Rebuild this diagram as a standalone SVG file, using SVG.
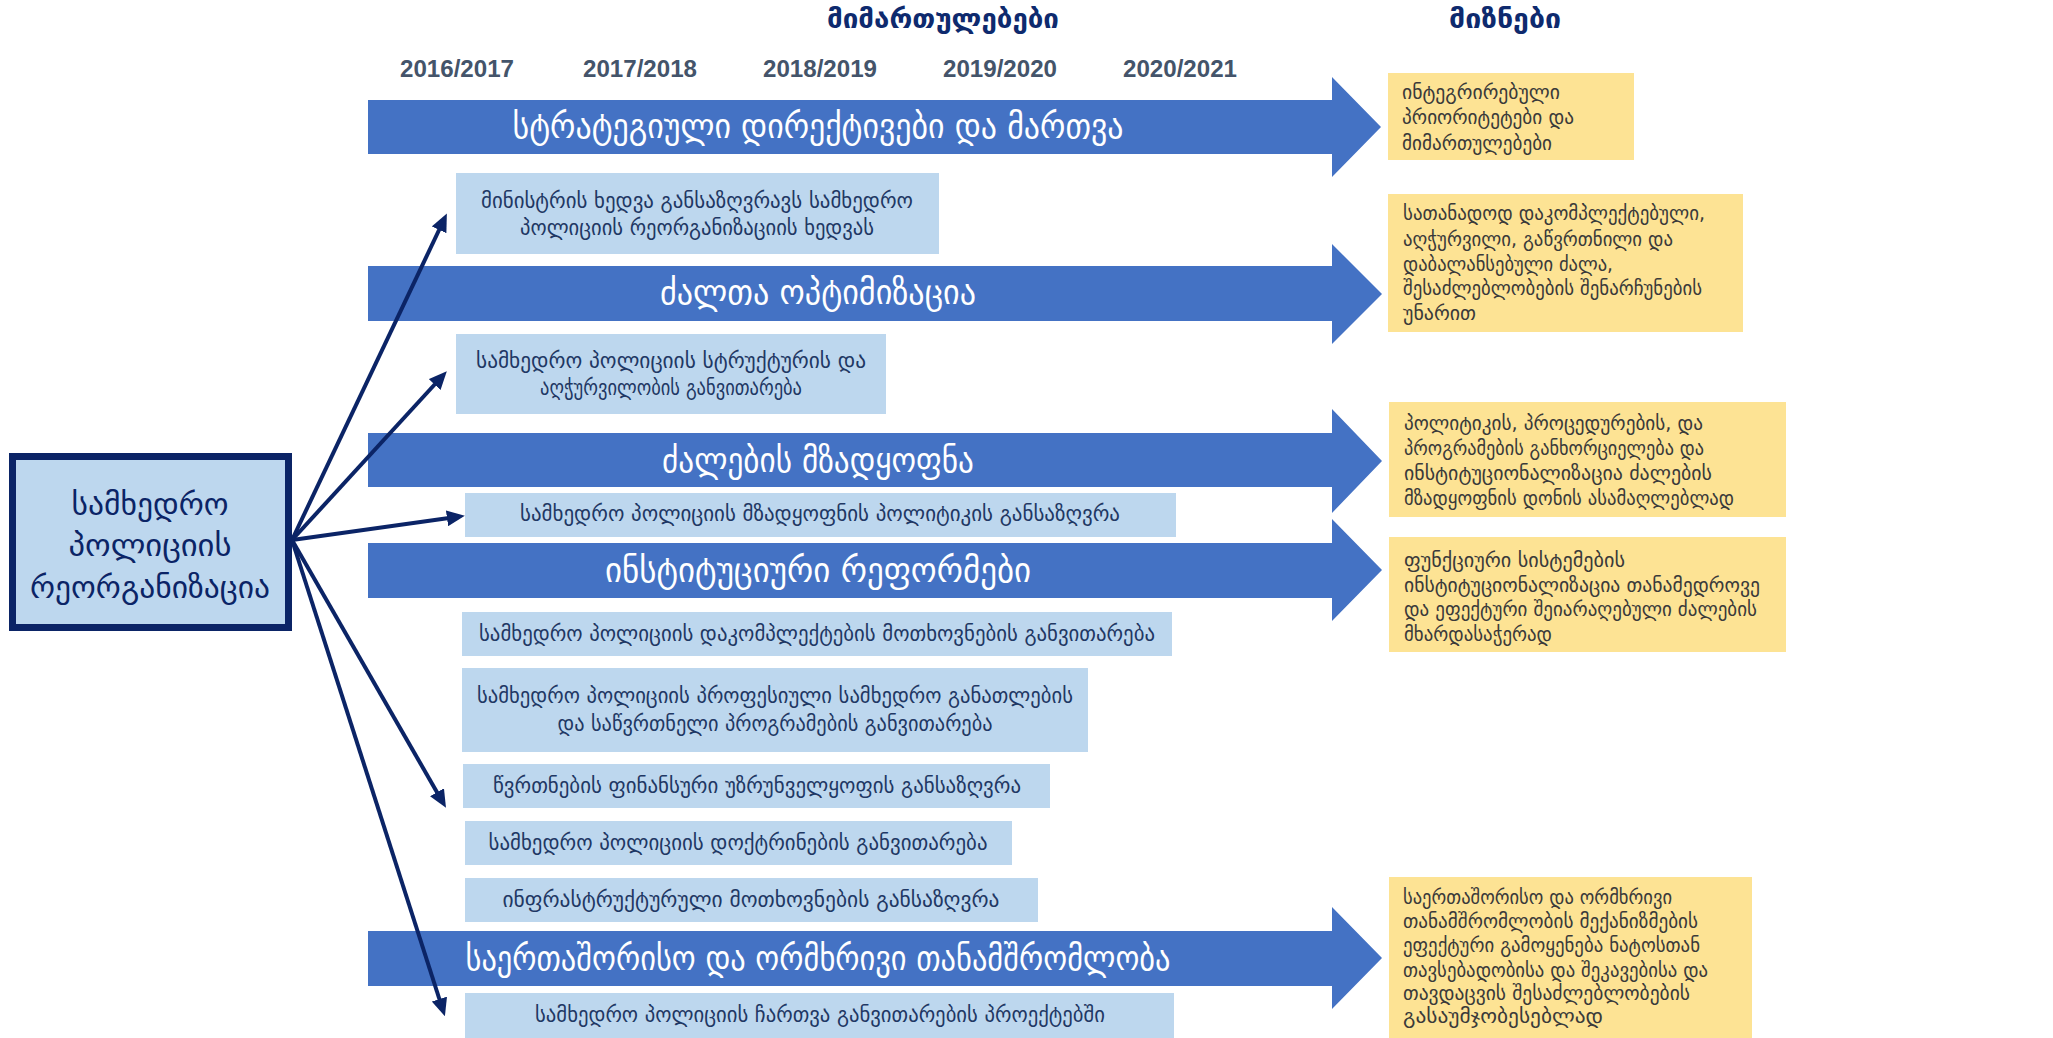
<svg xmlns="http://www.w3.org/2000/svg" width="2053" height="1038" viewBox="0 0 2053 1038">
<defs>
<style>
text{font-family:"DejaVu Sans","Noto Sans",sans-serif}
.hdr{font-size:27px;font-weight:bold;fill:#0E2A6E;text-anchor:middle}
.yr{font-family:"Liberation Sans",Arial,sans-serif;font-size:23px;font-weight:bold;fill:#44546A;text-anchor:middle}
.bar{fill:#4472C4}
.bt{font-size:34px;fill:#FFFFFF;text-anchor:middle}
.lb{fill:#BDD7EE}
.lt{font-size:22px;fill:#1F3864;text-anchor:middle}
.yb{fill:#FDE394}
.yt{font-size:19px;fill:#3A3A3A}
.root{fill:#BDD7EE;stroke:#0B2466;stroke-width:7}
.rt{font-size:31px;fill:#0B2466;text-anchor:middle}
.con{stroke:#0B2466;stroke-width:4;fill:none;marker-end:url(#ah)}
</style>
<marker id="ah" markerUnits="userSpaceOnUse" markerWidth="18" markerHeight="16" refX="2" refY="8" orient="auto">
<path d="M0,0 L18,8 L0,16 z" fill="#0B2466"/>
</marker>
</defs>
<rect width="2053" height="1038" fill="#FFFFFF"/>

<g id="headers">
<text class="hdr" x="943" y="28" textLength="232" lengthAdjust="spacingAndGlyphs">მიმართულებები</text>
<text class="hdr" x="1505" y="28" textLength="112" lengthAdjust="spacingAndGlyphs">მიზნები</text>
<text class="yr" x="457" y="77" textLength="114" lengthAdjust="spacingAndGlyphs">2016/2017</text>
<text class="yr" x="640" y="77" textLength="114" lengthAdjust="spacingAndGlyphs">2017/2018</text>
<text class="yr" x="820" y="77" textLength="114" lengthAdjust="spacingAndGlyphs">2018/2019</text>
<text class="yr" x="1000" y="77" textLength="114" lengthAdjust="spacingAndGlyphs">2019/2020</text>
<text class="yr" x="1180" y="77" textLength="114" lengthAdjust="spacingAndGlyphs">2020/2021</text>
</g>

<g id="bar1">
<polygon class="bar" points="368,100 1332,100 1332,77 1381,127 1332,177 1332,154 368,154"/>
<text class="bt" x="818" y="138" textLength="611" lengthAdjust="spacingAndGlyphs">სტრატეგიული დირექტივები და მართვა</text>
</g>
<g id="bar2">
<polygon class="bar" points="368,266 1332,266 1332,244 1382,294 1332,344 1332,321 368,321"/>
<text class="bt" x="818" y="304" textLength="316" lengthAdjust="spacingAndGlyphs">ძალთა ოპტიმიზაცია</text>
</g>
<g id="bar3">
<polygon class="bar" points="368,433 1332,433 1332,409 1382,461 1332,513 1332,487 368,487"/>
<text class="bt" x="818" y="472" textLength="312" lengthAdjust="spacingAndGlyphs">ძალების მზადყოფნა</text>
</g>
<g id="bar4">
<polygon class="bar" points="368,543 1332,543 1332,519 1382,570 1332,621 1332,598 368,598"/>
<text class="bt" x="818" y="582" textLength="426" lengthAdjust="spacingAndGlyphs">ინსტიტუციური რეფორმები</text>
</g>
<g id="bar5">
<polygon class="bar" points="368,931 1332,931 1332,907 1382,958 1332,1009 1332,986 368,986"/>
<text class="bt" x="818" y="970" textLength="705" lengthAdjust="spacingAndGlyphs">საერთაშორისო და ორმხრივი თანამშრომლობა</text>
</g>

<g id="box-a">
<rect class="lb" x="456" y="173" width="483" height="81"/>
<text class="lt" x="697" y="208" textLength="432" lengthAdjust="spacingAndGlyphs">მინისტრის ხედვა განსაზღვრავს სამხედრო</text>
<text class="lt" x="697" y="235" textLength="354" lengthAdjust="spacingAndGlyphs">პოლიციის რეორგანიზაციის ხედვას</text>
</g>
<g id="box-b">
<rect class="lb" x="456" y="334" width="430" height="80"/>
<text class="lt" x="671" y="368" textLength="390" lengthAdjust="spacingAndGlyphs">სამხედრო პოლიციის სტრუქტურის და</text>
<text class="lt" x="671" y="395" textLength="262" lengthAdjust="spacingAndGlyphs">აღჭურვილობის განვითარება</text>
</g>
<g id="box-c">
<rect class="lb" x="465" y="493" width="711" height="44"/>
<text class="lt" x="820" y="521" textLength="600" lengthAdjust="spacingAndGlyphs">სამხედრო პოლიციის მზადყოფნის პოლიტიკის განსაზღვრა</text>
</g>
<g id="box-d">
<rect class="lb" x="462" y="612" width="710" height="44"/>
<text class="lt" x="817" y="641" textLength="676" lengthAdjust="spacingAndGlyphs">სამხედრო პოლიციის დაკომპლექტების მოთხოვნების განვითარება</text>
</g>
<g id="box-e">
<rect class="lb" x="462" y="668" width="626" height="84"/>
<text class="lt" x="775" y="703" textLength="596" lengthAdjust="spacingAndGlyphs">სამხედრო პოლიციის პროფესიული სამხედრო განათლების</text>
<text class="lt" x="775" y="731" textLength="435" lengthAdjust="spacingAndGlyphs">და საწვრთნელი პროგრამების განვითარება</text>
</g>
<g id="box-f">
<rect class="lb" x="463" y="764" width="587" height="44"/>
<text class="lt" x="757" y="793" textLength="528" lengthAdjust="spacingAndGlyphs">წვრთნების ფინანსური უზრუნველყოფის განსაზღვრა</text>
</g>
<g id="box-g">
<rect class="lb" x="465" y="821" width="547" height="44"/>
<text class="lt" x="738" y="850" textLength="499" lengthAdjust="spacingAndGlyphs">სამხედრო პოლიციის დოქტრინების განვითარება</text>
</g>
<g id="box-h">
<rect class="lb" x="465" y="878" width="573" height="44"/>
<text class="lt" x="751" y="907" textLength="497" lengthAdjust="spacingAndGlyphs">ინფრასტრუქტურული მოთხოვნების განსაზღვრა</text>
</g>
<g id="box-i">
<rect class="lb" x="465" y="993" width="709" height="45"/>
<text class="lt" x="820" y="1022" textLength="570" lengthAdjust="spacingAndGlyphs">სამხედრო პოლიციის ჩართვა განვითარების პროექტებში</text>
</g>

<g id="goal1">
<rect class="yb" x="1388" y="73" width="246" height="87"/>
<text class="yt" x="1402" y="99" textLength="158" lengthAdjust="spacingAndGlyphs">ინტეგრირებული</text>
<text class="yt" x="1402" y="124" textLength="172" lengthAdjust="spacingAndGlyphs">პრიორიტეტები და</text>
<text class="yt" x="1402" y="150" textLength="150" lengthAdjust="spacingAndGlyphs">მიმართულებები</text>
</g>
<g id="goal2">
<rect class="yb" x="1388" y="194" width="355" height="138"/>
<text class="yt" x="1403" y="220" textLength="302" lengthAdjust="spacingAndGlyphs">სათანადოდ დაკომპლექტებული,</text>
<text class="yt" x="1403" y="246" textLength="270" lengthAdjust="spacingAndGlyphs">აღჭურვილი, გაწვრთნილი და</text>
<text class="yt" x="1403" y="271" textLength="210" lengthAdjust="spacingAndGlyphs">დაბალანსებული ძალა,</text>
<text class="yt" x="1403" y="295" textLength="299" lengthAdjust="spacingAndGlyphs">შესაძლებლობების შენარჩუნების</text>
<text class="yt" x="1403" y="320" textLength="73" lengthAdjust="spacingAndGlyphs">უნარით</text>
</g>
<g id="goal3">
<rect class="yb" x="1389" y="402" width="397" height="115"/>
<text class="yt" x="1404" y="430" textLength="299" lengthAdjust="spacingAndGlyphs">პოლიტიკის, პროცედურების, და</text>
<text class="yt" x="1404" y="455" textLength="300" lengthAdjust="spacingAndGlyphs">პროგრამების განხორციელება და</text>
<text class="yt" x="1404" y="480" textLength="308" lengthAdjust="spacingAndGlyphs">ინსტიტუციონალიზაცია ძალების</text>
<text class="yt" x="1404" y="505" textLength="330" lengthAdjust="spacingAndGlyphs">მზადყოფნის დონის ასამაღლებლად</text>
</g>
<g id="goal4">
<rect class="yb" x="1389" y="537" width="397" height="115"/>
<text class="yt" x="1404" y="567" textLength="221" lengthAdjust="spacingAndGlyphs">ფუნქციური სისტემების</text>
<text class="yt" x="1404" y="592" textLength="356" lengthAdjust="spacingAndGlyphs">ინსტიტუციონალიზაცია თანამედროვე</text>
<text class="yt" x="1404" y="616" textLength="353" lengthAdjust="spacingAndGlyphs">და ეფექტური შეიარაღებული ძალების</text>
<text class="yt" x="1404" y="641" textLength="148" lengthAdjust="spacingAndGlyphs">მხარდასაჭერად</text>
</g>
<g id="goal5">
<rect class="yb" x="1389" y="877" width="363" height="161"/>
<text class="yt" x="1403" y="904" textLength="269" lengthAdjust="spacingAndGlyphs">საერთაშორისო და ორმხრივი</text>
<text class="yt" x="1403" y="928" textLength="295" lengthAdjust="spacingAndGlyphs">თანამშრომლობის მექანიზმების</text>
<text class="yt" x="1403" y="952" textLength="297" lengthAdjust="spacingAndGlyphs">ეფექტური გამოყენება ნატოსთან</text>
<text class="yt" x="1403" y="977" textLength="305" lengthAdjust="spacingAndGlyphs">თავსებადობისა და შეკავებისა და</text>
<text class="yt" x="1403" y="1000" textLength="287" lengthAdjust="spacingAndGlyphs">თავდაცვის შესაძლებლობების</text>
<text class="yt" x="1403" y="1023" textLength="200" lengthAdjust="spacingAndGlyphs">გასაუმჯობესებლად</text>
</g>

<g id="root">
<rect class="root" x="12.5" y="456.5" width="276" height="171"/>
<text class="rt" x="150" y="515" textLength="157" lengthAdjust="spacingAndGlyphs">სამხედრო</text>
<text class="rt" x="150" y="556" textLength="163" lengthAdjust="spacingAndGlyphs">პოლიციის</text>
<text class="rt" x="150" y="598" textLength="240" lengthAdjust="spacingAndGlyphs">რეორგანიზაცია</text>
</g>

<g id="connectors">
<line class="con" x1="292" y1="540" x2="440" y2="228"/>
<line class="con" x1="292" y1="540" x2="436" y2="383"/>
<line class="con" x1="292" y1="540" x2="449" y2="518"/>
<line class="con" x1="292" y1="540" x2="438" y2="794"/>
<line class="con" x1="292" y1="540" x2="440" y2="1001"/>
</g>
</svg>
